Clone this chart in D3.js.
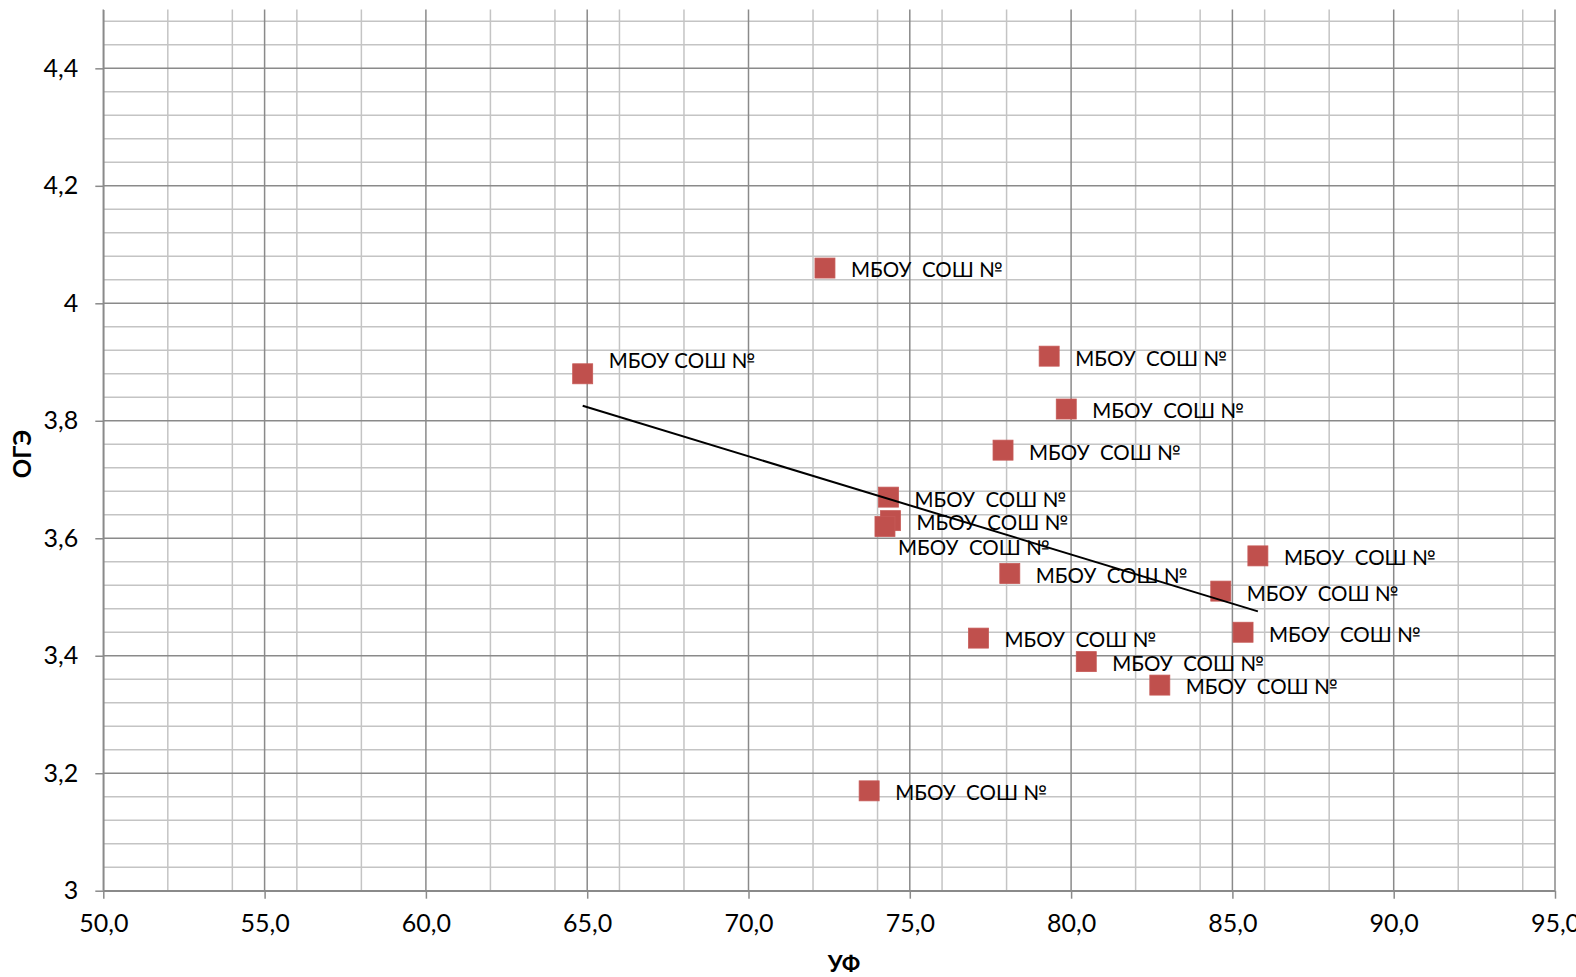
<!DOCTYPE html>
<html>
<head>
<meta charset="utf-8">
<script src="https://cdn.jsdelivr.net/npm/d3@7"></script>
<style>
  html, body { margin: 0; padding: 0; background: #ffffff; }
  svg { display: block; }
  text { font-family: Lato, "Open Sans", sans-serif; }
</style>
</head>
<body>
<div id="chart"></div>
<script>
// ---- data ----
const uf  = [64.86, 72.37, 79.32, 79.85, 77.89, 74.34, 74.40, 74.23, 78.10, 85.79, 84.64, 85.33, 77.13, 80.47, 82.75, 73.74];
const oge = [3.88, 4.06, 3.91, 3.82, 3.75, 3.67, 3.63, 3.62, 3.54, 3.57, 3.51, 3.44, 3.43, 3.39, 3.35, 3.17];
const pointLabels = [
  "МБОУ СОШ №", "МБОУ  СОШ №", "МБОУ  СОШ №", "МБОУ  СОШ №", "МБОУ  СОШ №", "МБОУ  СОШ №",
  "МБОУ  СОШ №", "МБОУ  СОШ №", "МБОУ  СОШ №", "МБОУ  СОШ №", "МБОУ  СОШ №", "МБОУ  СОШ №",
  "МБОУ  СОШ №", "МБОУ  СОШ №", "МБОУ  СОШ №", "МБОУ  СОШ №"
];
const xTickValues = [50, 55, 60, 65, 70, 75, 80, 85, 90, 95];
const xTickLabels = ["50,0", "55,0", "60,0", "65,0", "70,0", "75,0", "80,0", "85,0", "90,0", "95,0"];
const yTickValues = [3, 3.2, 3.4, 3.6, 3.8, 4, 4.2, 4.4];
const yTickLabels = ["3", "3,2", "3,4", "3,6", "3,8", "4", "4,2", "4,4"];
const xTitle = "УФ";
const yTitle = "ОГЭ";

// ---- layout ----
const W = 1576, H = 977;
const plot = { left: 103.3, right: 1555, top: 9.6, bottom: 890.7 };

const svg = d3.select("#chart").append("svg")
  .attr("width", W).attr("height", H);

const x = d3.scaleLinear().domain([50, 95]).range([plot.left, plot.right]);
const y = d3.scaleLinear().domain([3, 4.5]).range([plot.bottom, plot.top]);

// label placement per point (index -> offsets)
const labelPlace = { 0: { dx: 26, dy: -13 }, 7: { dx: 13, dy: 21 } };

// ---- gridlines ----
const xMinor = d3.range(50, 95.001, 2).filter(v => v % 5 !== 0);
const yMinor = d3.range(0, 38).map(i => +(3 + i * 0.04).toFixed(2)).filter(v => Math.abs((v - 3) / 0.2 - Math.round((v - 3) / 0.2)) > 1e-6 && v > 3);

const grid = svg.append("g");
grid.selectAll("line.xminor").data(xMinor).join("line")
  .attr("x1", d => x(d)).attr("x2", d => x(d))
  .attr("y1", plot.top).attr("y2", plot.bottom)
  .attr("stroke", "#c4c4c4").attr("stroke-width", 1.5);
grid.selectAll("line.yminor").data(yMinor).join("line")
  .attr("x1", plot.left).attr("x2", plot.right)
  .attr("y1", d => y(d)).attr("y2", d => y(d))
  .attr("stroke", "#c4c4c4").attr("stroke-width", 1.5);
grid.selectAll("line.xmajor").data(xTickValues).join("line")
  .attr("x1", d => x(d)).attr("x2", d => x(d))
  .attr("y1", plot.top).attr("y2", plot.bottom)
  .attr("stroke", "#8a8a8a").attr("stroke-width", 1.5);
grid.selectAll("line.ymajor").data(yTickValues).join("line")
  .attr("x1", plot.left).attr("x2", plot.right)
  .attr("y1", d => y(d)).attr("y2", d => y(d))
  .attr("stroke", "#8a8a8a").attr("stroke-width", 1.5);

// ---- axes ----
const xAxis = d3.axisBottom(x).tickValues(xTickValues)
  .tickFormat((d, i) => xTickLabels[i]).tickSizeInner(8).tickSizeOuter(0).tickPadding(16);
const gx = svg.append("g").attr("transform", `translate(0,${plot.bottom})`).call(xAxis);
gx.select(".domain").attr("stroke", "#8a8a8a").attr("stroke-width", 1.5);
gx.selectAll(".tick line").attr("stroke", "#8a8a8a").attr("stroke-width", 1.5);
gx.selectAll(".tick text").attr("font-size", 25).attr("fill", "#000").attr("font-family", "Lato");

const yAxis = d3.axisLeft(y).tickValues(yTickValues)
  .tickFormat((d, i) => yTickLabels[i]).tickSizeInner(8).tickSizeOuter(0).tickPadding(17);
const gy = svg.append("g").attr("transform", `translate(${plot.left},0)`).call(yAxis);
gy.select(".domain").attr("stroke", "#8a8a8a").attr("stroke-width", 1.5);
gy.selectAll(".tick line").attr("stroke", "#8a8a8a").attr("stroke-width", 1.5);
gy.selectAll(".tick text").attr("font-size", 25).attr("fill", "#000").attr("font-family", "Lato");

// ---- points ----
const pts = uf.map((v, i) => ({ x: v, y: oge[i], label: pointLabels[i], i }));
const ms = 20;
svg.append("g").selectAll("rect").data(pts).join("rect")
  .attr("x", d => x(d.x) - ms / 2).attr("y", d => y(d.y) - ms / 2)
  .attr("width", ms).attr("height", ms)
  .attr("fill", "#c0504d").attr("stroke", "#c65a57").attr("stroke-width", 0.8);

// ---- linear trendline ----
const mx = d3.mean(uf), my = d3.mean(oge);
const slope = d3.sum(uf, (v, i) => (v - mx) * (oge[i] - my)) / d3.sum(uf, v => (v - mx) ** 2);
const icpt = my - slope * mx;
const [x0, x1] = d3.extent(uf);
svg.append("line")
  .attr("x1", x(x0)).attr("y1", y(icpt + slope * x0))
  .attr("x2", x(x1)).attr("y2", y(icpt + slope * x1))
  .attr("stroke", "#000").attr("stroke-width", 2);

// ---- data labels ----
svg.append("g").selectAll("text").data(pts).join("text")
  .attr("x", d => x(d.x) + (labelPlace[d.i] ? labelPlace[d.i].dx : 26))
  .attr("y", d => y(d.y) + (labelPlace[d.i] ? labelPlace[d.i].dy : 2))
  .attr("dy", "0.36em")
  .attr("font-size", 20.5).attr("fill", "#000")
  .style("white-space", "pre")
  .text(d => d.label);

// ---- axis titles ----
svg.append("text")
  .attr("x", 844).attr("y", 964).attr("dy", "0.36em")
  .attr("text-anchor", "middle").attr("font-weight", "bold").attr("font-size", 23)
  .text(xTitle);
svg.append("text")
  .attr("transform", "translate(22,454) rotate(-90)").attr("dy", "0.36em")
  .attr("text-anchor", "middle").attr("font-weight", "bold").attr("font-size", 24)
  .text(yTitle);
</script>
</body>
</html>
